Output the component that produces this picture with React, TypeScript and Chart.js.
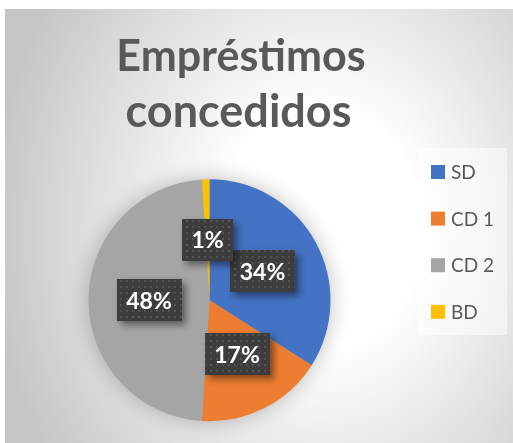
import React, { useEffect, useRef } from 'react';
import { Chart, registerables } from 'chart.js';

Chart.register(...registerables);

const TITLE_LINES = ['Empréstimos', 'concedidos'];
const CATEGORIES = ['SD', 'CD 1', 'CD 2', 'BD'];
const VALUES = [34, 17, 48, 1];
const COLORS = ['#4472C4', '#ED7D31', '#A5A5A5', '#FFC000'];

const W = 508;
const H = 434;
const FONT = 'Lato, "Open Sans", sans-serif';

function makePattern(ctx: CanvasRenderingContext2D) {
  const c = document.createElement('canvas');
  c.width = 6;
  c.height = 6;
  const p = c.getContext('2d')!;
  p.fillStyle = '#3d3d3d';
  p.fillRect(0, 0, 6, 6);
  p.fillStyle = '#535353';
  p.fillRect(1, 1, 2, 2);
  return ctx.createPattern(c, 'repeat');
}

const decorPlugin = {
  id: 'decor',
  beforeDraw(chart: any) {
    const ctx: CanvasRenderingContext2D = chart.ctx;
    // background radial gradient
    ctx.save();
    ctx.translate(315, 221);
    ctx.scale(1, 400 / 330);
    const g = ctx.createRadialGradient(0, 0, 0, 0, 0, 330);
    g.addColorStop(0, '#ffffff');
    g.addColorStop(0.3, '#ffffff');
    g.addColorStop(1, '#c6c6c6');
    ctx.fillStyle = g;
    ctx.fillRect(-400, -400, 800, 800);
    ctx.restore();

    // legend box
    ctx.save();
    ctx.fillStyle = 'rgba(255,255,255,0.5)';
    ctx.fillRect(413, 139, 89, 187);
    ctx.restore();

    // title
    ctx.save();
    ctx.fillStyle = '#595959';
    ctx.textAlign = 'center';
    ctx.textBaseline = 'alphabetic';
    ctx.font = `bold 43px ${FONT}`;
    ctx.fillText(TITLE_LINES[0], 236, 61.7);
    ctx.font = `bold 45px ${FONT}`;
    ctx.fillText(TITLE_LINES[1], 233.5, 117.7);
    ctx.restore();

    // legend
    ctx.save();
    ctx.font = `19px ${FONT}`;
    ctx.textBaseline = 'middle';
    ctx.textAlign = 'left';
    CATEGORIES.forEach((label, i) => {
      const cy = 163 + i * 46.6;
      ctx.fillStyle = COLORS[i];
      ctx.fillRect(426, cy - 7, 14, 14);
      ctx.fillStyle = '#595959';
      ctx.fillText(label, 446, cy + 1);
    });
    ctx.restore();
  },
  beforeDatasetsDraw(chart: any) {
    const ctx: CanvasRenderingContext2D = chart.ctx;
    const arc = chart.getDatasetMeta(0).data[0] as any;
    if (!arc) return;
    ctx.save();
    ctx.shadowColor = 'rgba(0,0,0,0.28)';
    ctx.shadowBlur = 22;
    ctx.beginPath();
    ctx.arc(arc.x, arc.y, arc.outerRadius - 1, 0, Math.PI * 2);
    ctx.fillStyle = '#a5a5a5';
    ctx.fill();
    ctx.restore();
  },
  afterDatasetsDraw(chart: any) {
    const ctx: CanvasRenderingContext2D = chart.ctx;
    const meta = chart.getDatasetMeta(0);
    const data: number[] = chart.data.datasets[0].data;
    const total = data.reduce((a, b) => a + b, 0);
    const pattern = makePattern(ctx);
    meta.data.forEach((arc: any, i: number) => {
      const { x, y } = arc.tooltipPosition();
      const text = Math.round((data[i] / total) * 100) + '%';
      ctx.save();
      ctx.font = `bold 23px ${FONT}`;
      const tw = ctx.measureText(text).width;
      const bw = tw + 19;
      const bh = 42;
      ctx.shadowColor = 'rgba(0,0,0,0.45)';
      ctx.shadowBlur = 7;
      ctx.shadowOffsetX = 4;
      ctx.shadowOffsetY = 4;
      ctx.fillStyle = pattern || '#404040';
      ctx.fillRect(Math.round(x - bw / 2), Math.round(y - bh / 2), Math.round(bw), bh);
      ctx.restore();
      ctx.save();
      ctx.font = `bold 23px ${FONT}`;
      ctx.fillStyle = '#ffffff';
      ctx.textAlign = 'center';
      ctx.textBaseline = 'middle';
      ctx.fillText(text, x, y + 1);
      ctx.restore();
    });
  },
};

export default function App() {
  const ref = useRef<HTMLCanvasElement>(null);
  useEffect(() => {
    if (!ref.current) return;
    const chart = new Chart(ref.current, {
      type: 'pie',
      data: {
        labels: CATEGORIES,
        datasets: [
          {
            data: VALUES,
            backgroundColor: COLORS,
            borderWidth: 0,
            hoverOffset: 0,
          },
        ],
      },
      options: {
        responsive: false,
        animation: false,
        layout: { padding: { left: 83.5, top: 170.3, right: 182.5, bottom: 21.7 } },
        plugins: {
          legend: { display: false },
          title: { display: false },
          tooltip: { enabled: false },
        },
      },
      plugins: [decorPlugin],
    });
    return () => chart.destroy();
  }, []);
  return (
    <div style={{ position: 'absolute', left: 5, top: 9, width: W, height: H }}>
      <canvas ref={ref} width={W} height={H} style={{ display: 'block', width: W, height: H }} />
    </div>
  );
}
